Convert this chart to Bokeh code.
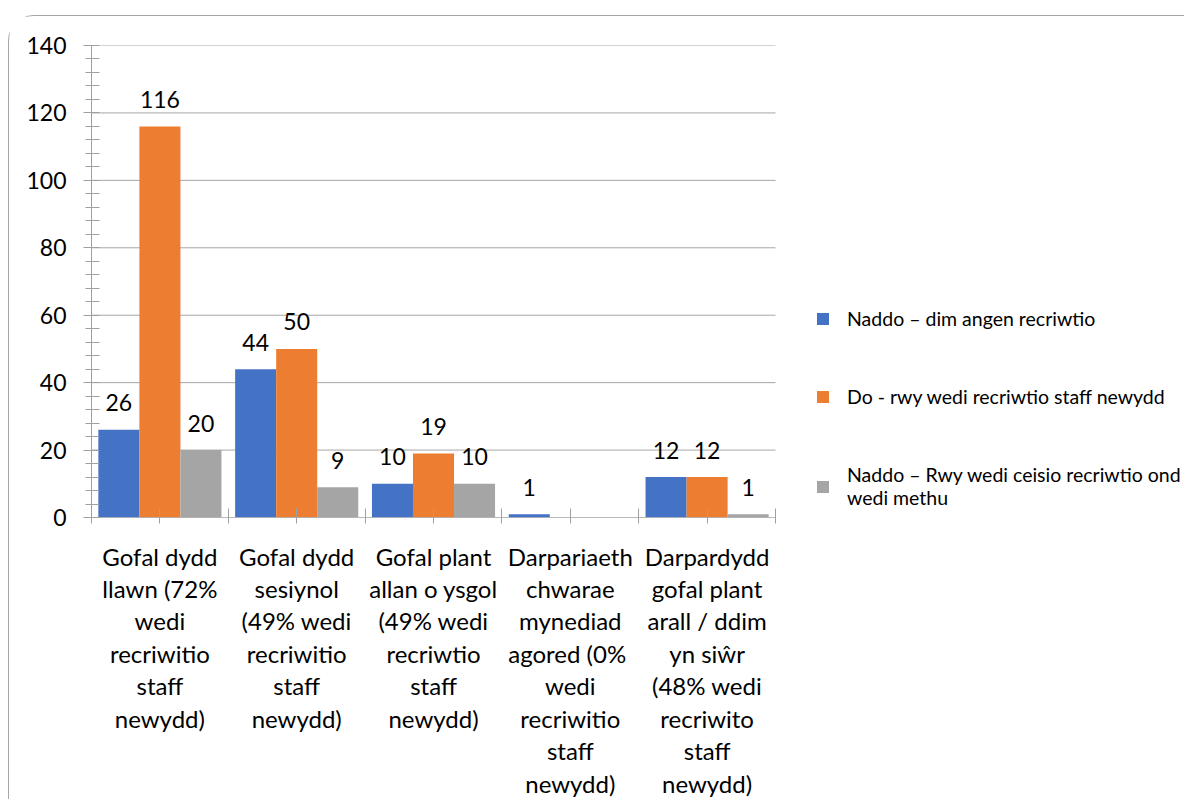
from bokeh.plotting import figure
from bokeh.models import ColumnDataSource, FixedTicker, Legend, LegendItem, Range1d
from bokeh.embed import file_html
from bokeh.resources import INLINE
from bokeh.core.properties import value

# ---- data ----
categories = [
    "Gofal dydd\nllawn (72%\nwedi\nrecriwitio\nstaff\nnewydd)",
    "Gofal dydd\nsesiynol\n(49% wedi\nrecriwitio\nstaff\nnewydd)",
    "Gofal plant\nallan o ysgol\n(49% wedi\nrecriwtio\nstaff\nnewydd)",
    "Darpariaeth\nchwarae\nmynediad\nagored  (0%\nwedi\nrecriwitio\nstaff\nnewydd)",
    "Darpardydd\ngofal plant\narall / ddim\nyn siŵr\n(48% wedi\nrecriwito\nstaff\nnewydd)",
]
series_names = [
    "Naddo – dim angen recriwtio",
    "Do - rwy wedi recriwtio staff newydd",
    "Naddo – Rwy wedi ceisio recriwtio ond\nwedi methu",
]
naddo_dim_angen = [26, 44, 10, 1, 12]
do_recriwtio = [116, 50, 19, 0, 12]
naddo_wedi_methu = [20, 9, 10, 0, 1]
colors = ["#4472C4", "#ED7D31", "#A5A5A5"]
y_ticks = [0, 20, 40, 60, 80, 100, 120, 140]
y_minor = list(range(0, 141, 4))

FONT = "Lato"
GRID = "#a6a6a6"
series = [naddo_dim_angen, do_recriwtio, naddo_wedi_methu]
n = len(categories)
centers = [i + 0.5 for i in range(n)]
bar_w = 0.3
offsets = [-bar_w, 0.0, bar_w]

W, H = 1176, 784
LEFT, TOP, BOTTOM = 82, 29, 283
CAT_PX = 684 / n                      # pixel width of one category
x_end = (W - LEFT) / CAT_PX           # frame extends right to hold the legend

p = figure(width=W, height=H, output_backend="svg", toolbar_location=None,
           x_range=Range1d(0, x_end), y_range=Range1d(0, 140),
           min_border_left=LEFT, min_border_right=0, min_border_top=TOP,
           min_border_bottom=BOTTOM)
p.margin = (15, 0, 0, 8)
p.styles = {"border-top": "1px solid #a6a6a6",
            "border-left": "1px solid #a6a6a6", "border-top-left-radius": "26px"}
p.outline_line_color = None
p.background_fill_color = "white"
p.xgrid.visible = False
p.ygrid.visible = False

# horizontal gridlines limited to the category area
p.segment(x0=[0] * len(y_ticks), x1=[n] * len(y_ticks), y0=y_ticks, y1=y_ticks,
          line_color=GRID, line_width=1)

items = []
for k, vals in enumerate(series):
    xs = [c + offsets[k] for c in centers]
    src = ColumnDataSource(dict(x=xs, top=vals))
    r = p.vbar(x="x", top="top", width=bar_w, source=src,
               fill_color=colors[k], line_color=None)
    items.append(LegendItem(label=series_names[k], renderers=[r]))
    lx = [x for x, v in zip(xs, vals) if v > 0]
    lv = [v for v in vals if v > 0]
    lsrc = ColumnDataSource(dict(x=lx, y=lv, t=[str(v) for v in lv]))
    p.text(x="x", y="y", text="t", source=lsrc, text_align="center",
           text_baseline="alphabetic", y_offset=-27,
           text_font=value(FONT), text_font_size="23px", text_color="black")

# x axis base line (category area only)
p.segment(x0=[0], x1=[n], y0=[0], y1=[0], line_color="#a0a0a0", line_width=1)

# y axis
ya = p.yaxis[0]
ya.ticker = FixedTicker(ticks=y_ticks, minor_ticks=y_minor)
ya.axis_line_color = "#a0a0a0"
ya.major_tick_line_color = "#a0a0a0"
ya.minor_tick_line_color = "#a0a0a0"
ya.major_tick_out = 8
ya.major_tick_in = 0
ya.minor_tick_out = 6
ya.minor_tick_in = 8
ya.major_label_standoff = 17
ya.major_label_text_font = FONT
ya.major_label_text_font_size = "23px"
ya.major_label_text_color = "black"

# x axis
xa = p.xaxis[0]
xa.ticker = FixedTicker(ticks=centers, minor_ticks=list(range(0, n + 1)))
xa.major_label_overrides = {c: lab for c, lab in zip(centers, categories)}
xa.axis_line_color = None
xa.major_tick_line_color = "#a0a0a0"
xa.minor_tick_line_color = "#a0a0a0"
xa.major_tick_out = 6
xa.major_tick_in = 9
xa.minor_tick_out = 6
xa.minor_tick_in = 9
xa.major_label_standoff = 18
xa.major_label_text_font = FONT
xa.major_label_text_font_size = "24px"
xa.major_label_text_line_height = 1.12
xa.major_label_text_color = "black"
xa.major_label_orientation = "horizontal"

legend = Legend(items=items, location=(724, 8), margin=0, padding=10,
                glyph_width=15, glyph_height=15, label_standoff=17, spacing=55,
                label_text_font=FONT, label_text_font_size="19.5px",
                label_text_color="black", border_line_color=None,
                background_fill_alpha=0)
p.add_layout(legend, "center")

open("out.html", "w").write(file_html(p, INLINE))
